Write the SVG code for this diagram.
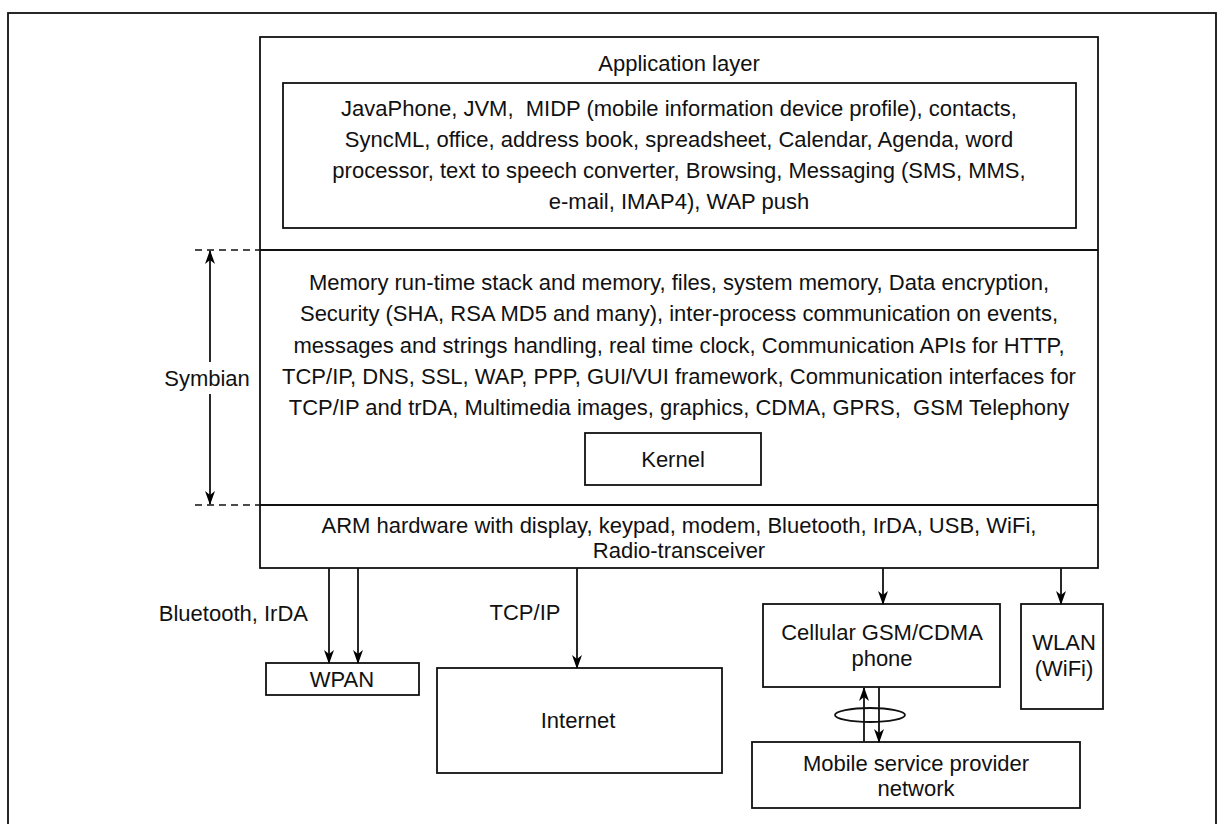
<svg xmlns="http://www.w3.org/2000/svg" width="1225" height="824" viewBox="0 0 1225 824">
<defs>
<marker id="ah" viewBox="0 0 14 10" markerWidth="14" markerHeight="10" refX="13" refY="5" orient="auto" markerUnits="userSpaceOnUse">
<path d="M0,0 L14,5 L0,10 L4,5 z" fill="#000"/>
</marker>
<style>
text{font-family:"Liberation Sans",Arial,sans-serif;font-size:22px;fill:#111;white-space:pre}
.c{text-anchor:middle}
.box{fill:none;stroke:#111;stroke-width:1.8}
.ln{fill:none;stroke:#111;stroke-width:1.8}
.dash{fill:none;stroke:#111;stroke-width:1.6;stroke-dasharray:7,5}
.arr{fill:none;stroke:#111;stroke-width:1.8;marker-end:url(#ah)}
</style>
</defs>
<rect width="1225" height="824" fill="#fff"/>
<rect id="frame" x="8" y="13" width="1208" height="830" class="box"/>

<g id="symbian-device">
<rect x="260" y="37" width="838" height="531" class="box"/>
<line x1="260" y1="250" x2="1098" y2="250" class="ln"/>
<line x1="260" y1="505" x2="1098" y2="505" class="ln"/>
</g>

<g id="application-layer">
<text x="679" y="71" class="c">Application layer</text>
</g>
<g id="applications">
<rect x="283" y="83" width="793" height="145" class="box"/>
<text x="679" y="116" class="c">JavaPhone, JVM,  MIDP (mobile information device profile), contacts,</text>
<text x="679" y="147" class="c">SyncML, office, address book, spreadsheet, Calendar, Agenda, word</text>
<text x="679" y="178" class="c">processor, text to speech converter, Browsing, Messaging (SMS, MMS,</text>
<text x="679" y="209" class="c">e-mail, IMAP4), WAP push</text>
</g>

<g id="symbian-os">
<text x="679" y="290" class="c">Memory run-time stack and memory, files, system memory, Data encryption,</text>
<text x="679" y="321" class="c">Security (SHA, RSA MD5 and many), inter-process communication on events,</text>
<text x="679" y="353" class="c">messages and strings handling, real time clock, Communication APIs for HTTP,</text>
<text x="679" y="384" class="c">TCP/IP, DNS, SSL, WAP, PPP, GUI/VUI framework, Communication interfaces for</text>
<text x="679" y="415" class="c">TCP/IP and trDA, Multimedia images, graphics, CDMA, GPRS,  GSM Telephony</text>
</g>

<g id="kernel">
<rect x="585" y="433" width="176" height="52" class="box"/>
<text x="673" y="467" class="c">Kernel</text>
</g>

<g id="hardware">
<text x="679" y="533" class="c">ARM hardware with display, keypad, modem, Bluetooth, IrDA, USB, WiFi,</text>
<text x="679" y="558" class="c">Radio-transceiver</text>
</g>

<g id="symbian-label">
<text x="207" y="386" class="c">Symbian</text>
</g>

<g id="wpan">
<rect x="266" y="663" width="153" height="32" class="box"/>
<text x="342" y="687" class="c">WPAN</text>
</g>
<g id="internet">
<rect x="437" y="668" width="285" height="105" class="box"/>
<text x="578" y="728" class="c">Internet</text>
</g>
<g id="cellular">
<rect x="763" y="604" width="237" height="83" class="box"/>
<text x="882" y="640" class="c">Cellular GSM/CDMA</text>
<text x="882" y="666" class="c">phone</text>
</g>
<g id="wlan">
<rect x="1021" y="604" width="82" height="105" class="box"/>
<text x="1064" y="650" class="c">WLAN</text>
<text x="1064" y="676" class="c">(WiFi)</text>
</g>
<g id="mobile-network">
<rect x="752" y="742" width="328" height="66" class="box"/>
<text x="916" y="771" class="c">Mobile service provider</text>
<text x="916" y="796" class="c">network</text>
</g>

<g id="connectors">
<line x1="195" y1="250" x2="260" y2="250" class="dash"/>
<line x1="195" y1="505" x2="260" y2="505" class="dash"/>
<line x1="210" y1="362" x2="210" y2="251" class="arr"/>
<line x1="210" y1="394" x2="210" y2="504" class="arr"/>
<line x1="329" y1="568" x2="329" y2="663" class="arr"/>
<line x1="358" y1="568" x2="358" y2="663" class="arr"/>
<line x1="577" y1="568" x2="577" y2="668" class="arr"/>
<line x1="883" y1="568" x2="883" y2="604" class="arr"/>
<line x1="1061" y1="568" x2="1061" y2="604" class="arr"/>
<line x1="864" y1="742" x2="864" y2="688" class="arr"/>
<line x1="879" y1="687" x2="879" y2="742" class="arr"/>
<ellipse cx="870" cy="715" rx="35" ry="7" class="ln"/>
<text x="308" y="621" style="text-anchor:end">Bluetooth, IrDA</text>
<text x="525" y="620" class="c">TCP/IP</text>
</g>
</svg>
